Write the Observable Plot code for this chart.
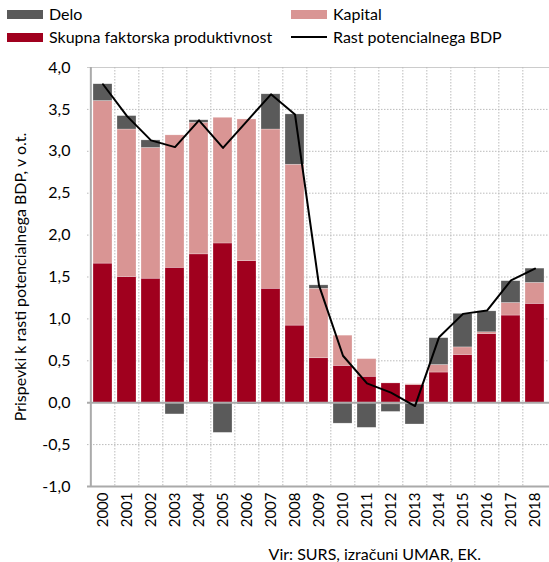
<!DOCTYPE html>
<html><head><meta charset="utf-8">
<script src="https://cdn.jsdelivr.net/npm/d3@7"></script>
<script src="https://cdn.jsdelivr.net/npm/@observablehq/plot@0.6"></script>
<style>
body{margin:0;background:#fff;font-family:Lato,"Open Sans",sans-serif;}
#wrap{width:549px;height:562px;position:relative;overflow:hidden;}
.legend{height:58px;position:relative;font-size:16px;color:#000;}
.item{position:absolute;display:flex;align-items:center;line-height:18px;}
.sw{width:36px;height:9px;margin-right:6px;}
.ln{width:36px;height:0;border-top:2px solid #000;margin-right:6px;}
.cap{font-size:16px;line-height:18px;text-align:right;padding-right:68px;margin-top:9px;}
</style></head>
<body><div id="wrap">
<div class="legend">
 <div class="item" style="left:7px;top:5px"><div class="sw" style="background:#5a5a5a"></div>Delo</div>
 <div class="item" style="left:291px;top:5px"><div class="sw" style="background:#d99594"></div>Kapital</div>
 <div class="item" style="left:7px;top:28px"><div class="sw" style="background:#a0001e"></div>Skupna faktorska produktivnost</div>
 <div class="item" style="left:291px;top:28px"><div class="ln"></div>Rast potencialnega BDP</div>
</div>
<div id="chart"></div>
<div class="cap">Vir: SURS, izračuni UMAR, EK.</div>
</div>
<script>
const years = ["2000","2001","2002","2003","2004","2005","2006","2007","2008","2009","2010","2011","2012","2013","2014","2015","2016","2017","2018"];
const sfp =     [1.66,1.50,1.48,1.61,1.77,1.90,1.69,1.36,0.92,0.53,0.44,0.31,0.23,0.21,0.36,0.57,0.82,1.04,1.18];
const kapital = [1.94,1.76,1.56,1.58,1.57,1.50,1.69,1.90,1.92,0.83,0.36,0.21,-0.02,0.01,0.09,0.09,0.02,0.15,0.25];
const delo =    [0.20,0.16,0.09,-0.14,0.03,-0.36,-0.02,0.42,0.60,0.04,-0.25,-0.30,-0.09,-0.26,0.32,0.40,0.25,0.26,0.17];
const rast =    [3.80,3.42,3.13,3.05,3.37,3.04,3.36,3.68,3.44,1.40,0.56,0.23,0.12,-0.04,0.78,1.06,1.10,1.46,1.60];
const yTicks = [-1,-0.5,0,0.5,1,1.5,2,2.5,3,3.5,4];
const seriesNames = ["Skupna faktorska produktivnost","Kapital","Delo"];
const seriesColors = ["#a0001e","#d99594","#5a5a5a"];

const rows = [];
years.forEach((y,i)=>{
  rows.push({year:y, series:seriesNames[0], value:sfp[i]});
  rows.push({year:y, series:seriesNames[1], value:kapital[i]});
  rows.push({year:y, series:seriesNames[2], value:delo[i]});
});
const lineData = years.map((y,i)=>({year:y, value:rast[i]}));

const W = 549, ML = 87, MR = 0;
const step = (W-ML-MR)/years.length;
const fmt = d => d.toFixed(1).replace(".", ",");

const chart = Plot.plot({
  width: W, height: 478,
  marginLeft: ML, marginRight: MR, marginTop: 9, marginBottom: 50,
  style: {fontFamily: "Lato, 'Open Sans', sans-serif", fontSize: "15px", color:"#000"},
  x: {domain: years, paddingInner: 0.21, paddingOuter: 0.105},
  y: {domain: [-1, 4]},
  color: {domain: seriesNames, range: seriesColors},
  marks: [
    Plot.ruleY(yTicks.filter(d=>d!==0 && d!==-1 && d!==4), {stroke:"#bbb", strokeDasharray:"1.5,1.5", strokeWidth:1}),
    Plot.ruleY([4], {stroke:"#ccc", strokeWidth:1}),
    Plot.ruleX(years.slice(1), {stroke:"#bbb", strokeDasharray:"1.5,1.5", strokeWidth:1, dx:-step/2}),
    Plot.barY(rows, Plot.stackY({x:"year", y:"value", fill:"series", stroke:"#fff", strokeOpacity:0.5, strokeWidth:0.5})),
    Plot.ruleY([0], {stroke:"#aaa", strokeWidth:2}),
    Plot.ruleY([-1], {stroke:"#aaa", strokeWidth:2}),
    Plot.ruleX([years[0]], {stroke:"#aaa", strokeWidth:2, dx:-step/2}),
    Plot.line(lineData, {x:"year", y:"value", stroke:"#000", strokeWidth:2}),
    Plot.axisY({ticks: yTicks, tickFormat: fmt, tickSize: 0, tickPadding: 17, fontSize: 16,
      label: "Prispevki k rasti potencialnega BDP, v o.t.", labelAnchor:"center", labelArrow:"none", labelOffset: 73}),
    Plot.axisX({tickSize:0, tickRotate:-90, tickPadding: 6, label:null})
  ]
});
document.getElementById("chart").appendChild(chart);
</script>
</body></html>
